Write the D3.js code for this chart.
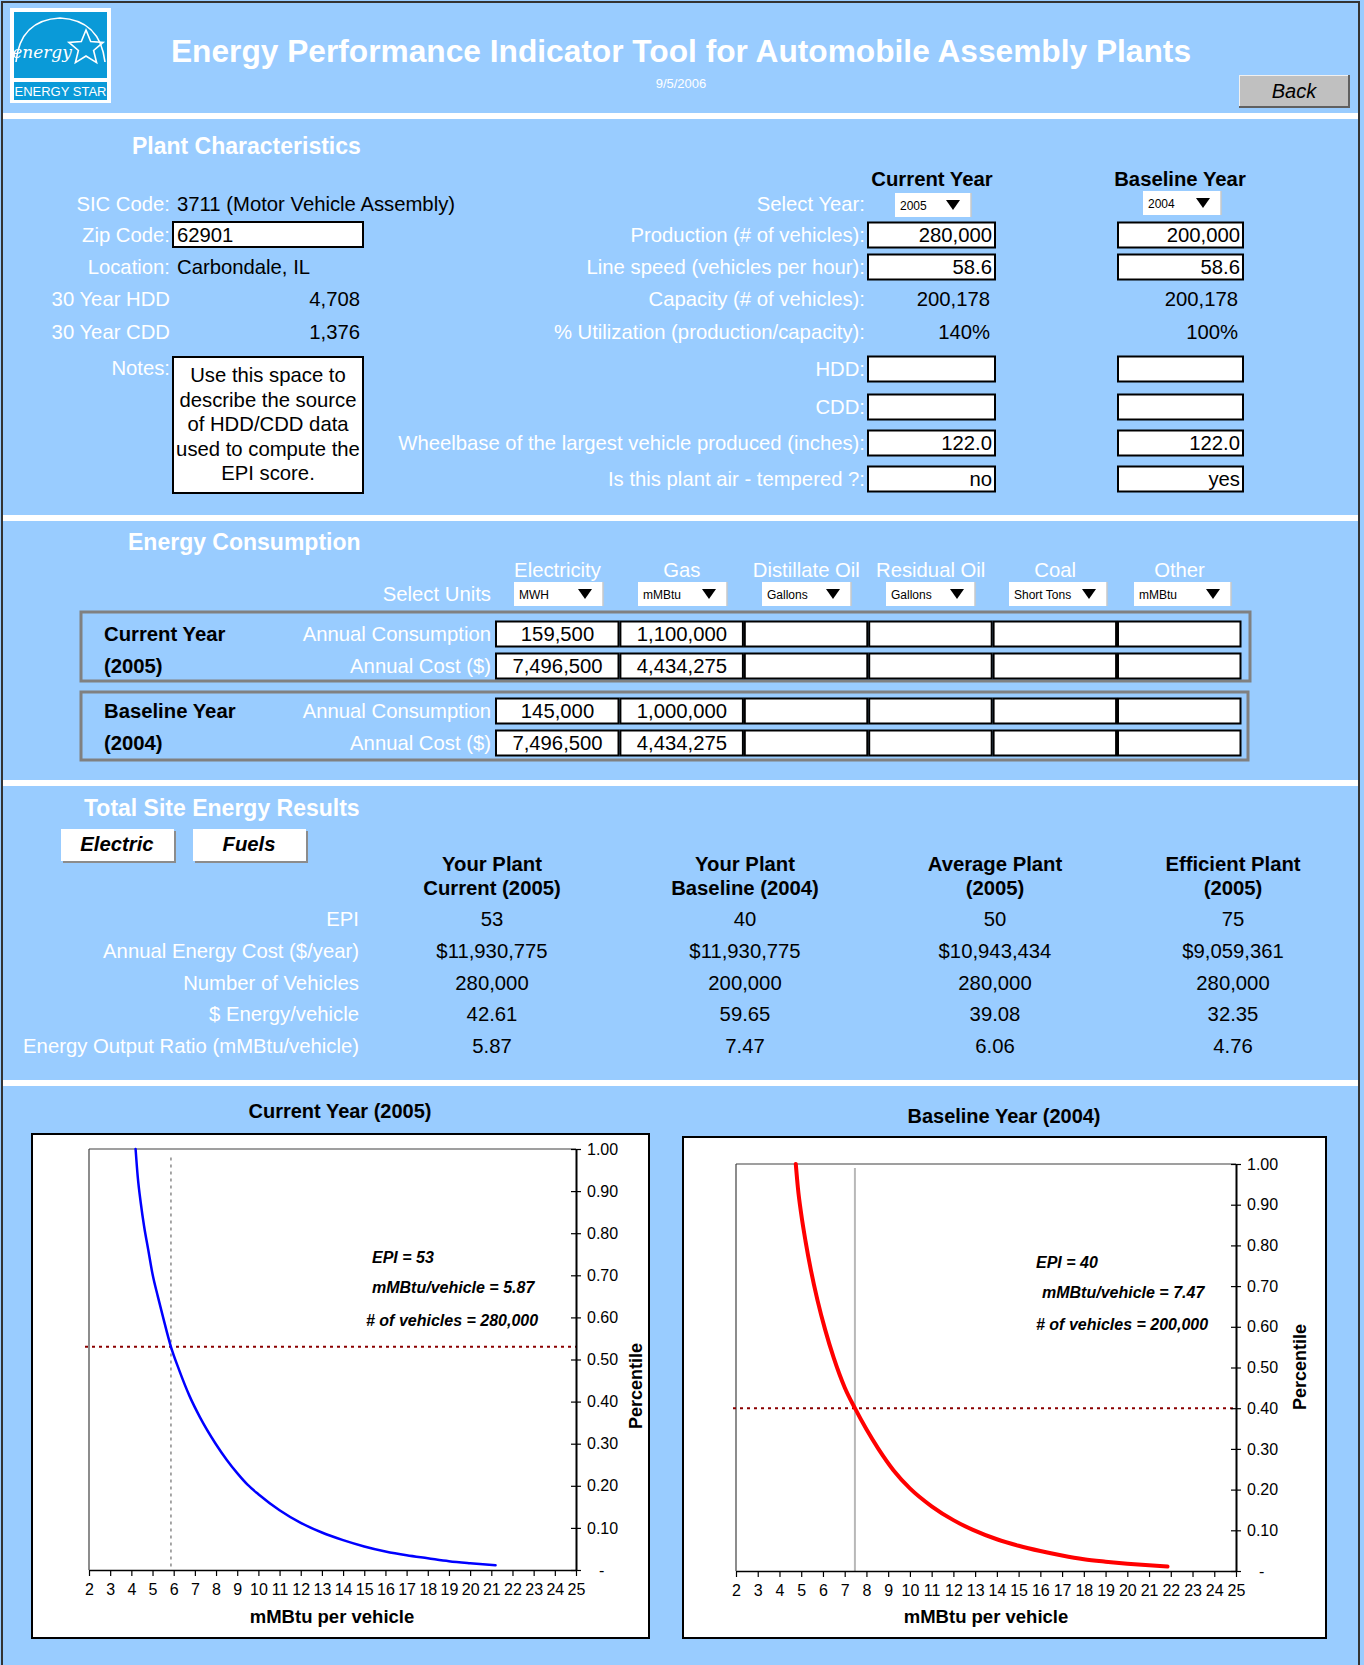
<!DOCTYPE html>
<html>
<head>
<meta charset="utf-8">
<title>Energy Performance Indicator Tool for Automobile Assembly Plants</title>
<script src="https://cdn.jsdelivr.net/npm/d3@7"></script>
<style>
  html, body { margin: 0; padding: 0; background: #99ccff; }
  svg { display: block; }
</style>
</head>
<body>
<svg id="sheet" width="1364" height="1665"></svg>
<script>
// ---------- worksheet data ----------
const reportTitle = "Energy Performance Indicator Tool for Automobile Assembly Plants";
const reportDate = "9/5/2006";

const siteLabels = ["SIC Code:", "Zip Code:", "Location:", "30 Year HDD", "30 Year CDD", "Notes:"];
const siteValues = ["3711 (Motor Vehicle Assembly)", "62901", "Carbondale, IL", "4,708", "1,376"];
const notesLines = ["Use this space to", "describe the source", "of HDD/CDD data", "used to compute the", "EPI score."];

const yearHeads = ["Current Year", "Baseline Year"];
const selectedYears = ["2005", "2004"];
const plantLabels = ["Select Year:", "Production (# of vehicles):", "Line speed (vehicles per hour):",
  "Capacity (# of vehicles):", "% Utilization (production/capacity):", "HDD:", "CDD:",
  "Wheelbase of the largest vehicle produced (inches):", "Is this plant air - tempered ?:"];
const plantInputRows = [1, 2, 5, 6, 7, 8];
const currentPlant = [null, "280,000", "58.6", "200,178", "140%", "", "", "122.0", "no"];
const baselinePlant = [null, "200,000", "58.6", "200,178", "100%", "", "", "122.0", "yes"];

const fuelNames = ["Electricity", "Gas", "Distillate Oil", "Residual Oil", "Coal", "Other"];
const fuelUnits = ["MWH", "mMBtu", "Gallons", "Gallons", "Short Tons", "mMBtu"];
const currentConsumption = ["159,500", "1,100,000", "", "", "", ""];
const currentCost = ["7,496,500", "4,434,275", "", "", "", ""];
const baselineConsumption = ["145,000", "1,000,000", "", "", "", ""];
const baselineCost = ["7,496,500", "4,434,275", "", "", "", ""];

const resultHeads = [["Your Plant", "Current (2005)"], ["Your Plant", "Baseline (2004)"],
  ["Average Plant", "(2005)"], ["Efficient Plant", "(2005)"]];
const resultLabels = ["EPI", "Annual Energy Cost ($/year)", "Number of Vehicles",
  "$ Energy/vehicle", "Energy Output Ratio (mMBtu/vehicle)"];
const resultEPI = [53, 40, 50, 75];
const resultCost = ["$11,930,775", "$11,930,775", "$10,943,434", "$9,059,361"];
const resultVehicles = ["280,000", "200,000", "280,000", "280,000"];
const resultPerVehicle = ["42.61", "59.65", "39.08", "32.35"];
const resultRatio = [5.87, 7.47, 6.06, 4.76];

// percentile curves: [mMBtu per vehicle, percentile]
const xTickValues = [2, 3, 4, 5, 6, 7, 8, 9, 10, 11, 12, 13, 14, 15, 16, 17, 18, 19, 20, 21, 22, 23, 24, 25];
const yTickValues = [0, 0.1, 0.2, 0.3, 0.4, 0.5, 0.6, 0.7, 0.8, 0.9, 1.0];
const currentCurve = [[4.2, 1.0], [4.3, 0.935], [4.45, 0.87], [4.6, 0.817], [4.8, 0.76], [5.0, 0.703],
  [5.25, 0.65], [5.5, 0.60], [5.87, 0.53], [6.25, 0.476], [6.75, 0.413], [7.25, 0.362], [7.98, 0.30],
  [8.5, 0.262], [9.0, 0.230], [9.5, 0.202], [10, 0.180], [11, 0.142], [12, 0.112], [13, 0.089],
  [14, 0.071], [15, 0.056], [16, 0.044], [17, 0.035], [18, 0.028], [19, 0.021], [20, 0.016],
  [21.2, 0.011]];
const baselineCurve = [[4.75, 1.0], [4.85, 0.94], [5.0, 0.877], [5.2, 0.81], [5.45, 0.738], [5.75, 0.665],
  [6.1, 0.593], [6.5, 0.523], [7.0, 0.451], [7.47, 0.40], [8.0, 0.348], [8.55, 0.30], [9.25, 0.247],
  [10, 0.203], [11, 0.159], [12, 0.125], [12.9, 0.101], [14, 0.078], [15, 0.062], [16, 0.049],
  [17, 0.038], [18, 0.029], [19, 0.023], [20, 0.018], [21, 0.014], [21.85, 0.011]];

// ---------- drawing ----------
const FONT = "'Liberation Sans', Arial, Helvetica, sans-serif";
const BG = "#99ccff";
const BASE = 20.3;
const svg = d3.select("#sheet");

function text(parent, x, y, s, o = {}) {
  return parent.append("text")
    .attr("x", x).attr("y", y).attr("dy", "0.35em")
    .attr("font-family", o.family || FONT)
    .attr("font-size", o.size || BASE)
    .attr("font-weight", o.weight || "normal")
    .attr("font-style", o.style || "normal")
    .attr("text-anchor", o.anchor || "start")
    .attr("fill", o.fill || "#000")
    .text(s);
}

function inputBox(parent, x0, x1, y0, y1) {
  parent.append("rect").attr("x", x0).attr("y", y0).attr("width", x1 - x0).attr("height", y1 - y0)
    .attr("fill", "#fff").attr("stroke", "#000").attr("stroke-width", 2);
}

function dropdown(parent, x0, x1, yc, label) {
  parent.append("rect").attr("x", x0).attr("y", yc - 12).attr("width", x1 - x0).attr("height", 24)
    .attr("fill", "#fff");
  parent.append("line").attr("x1", x1).attr("x2", x1).attr("y1", yc - 12).attr("y2", yc + 12)
    .attr("stroke", "#c8c8c8").attr("stroke-width", 1.5);
  text(parent, x0 + 5, yc + 1, label, { size: 12 });
  const tx = x1 - 18;
  parent.append("path").attr("d", `M${tx - 7},${yc - 5}L${tx + 7},${yc - 5}L${tx},${yc + 5}Z`).attr("fill", "#000");
}

// page frame and separators
svg.append("rect").attr("width", 1364).attr("height", 1665).attr("fill", BG);
[[113, 6], [515, 6], [780, 6], [1080, 6]].forEach(([y, h]) =>
  svg.append("rect").attr("x", 3).attr("y", y).attr("width", 1356).attr("height", h).attr("fill", "#fff"));
svg.append("rect").attr("x", 2).attr("y", 2).attr("width", 1357).attr("height", 1680)
  .attr("fill", "none").attr("stroke", "#333").attr("stroke-width", 2);

// ---------- header ----------
const logo = svg.append("g");
logo.append("rect").attr("x", 10).attr("y", 8).attr("width", 101).attr("height", 95).attr("fill", "#fff");
logo.append("rect").attr("x", 14).attr("y", 12).attr("width", 93).attr("height", 66).attr("fill", "#0a9ad8");
logo.append("rect").attr("x", 14).attr("y", 82).attr("width", 93).attr("height", 18).attr("fill", "#0a9ad8");
logo.append("path").attr("d", "M16,62 Q20,20 60,18 Q100,20 105,62").attr("fill", "none")
  .attr("stroke", "#fff").attr("stroke-width", 1.6);
text(logo, 42, 52, "energy", { family: "'DejaVu Serif', serif", style: "italic", size: 17, fill: "#fff", anchor: "middle" });
const star = d3.range(10).map(i => {
  const r = i % 2 ? 8 : 18, a = -Math.PI / 2 + i * Math.PI / 5;
  return [86 + r * Math.cos(a), 48 + r * Math.sin(a)];
});
logo.append("path").attr("d", "M" + star.join("L") + "Z").attr("fill", "none").attr("stroke", "#fff").attr("stroke-width", 1.6);
text(logo, 60.5, 91.5, "ENERGY STAR", { size: 13, fill: "#fff", anchor: "middle" });

text(svg, 681, 51, reportTitle, { size: 31.7, weight: "bold", fill: "#fff", anchor: "middle" });
text(svg, 681, 83, reportDate, { size: 13, fill: "#fff", anchor: "middle" });

const back = svg.append("g");
back.append("rect").attr("x", 1239).attr("y", 75).attr("width", 111).attr("height", 33).attr("fill", "#606060");
back.append("rect").attr("x", 1239).attr("y", 75).attr("width", 109).attr("height", 31).attr("fill", "#f0f0f0");
back.append("rect").attr("x", 1240).attr("y", 76).attr("width", 108).attr("height", 30).attr("fill", "#c0c0c0");
text(back, 1294, 91, "Back", { size: 20, style: "italic", anchor: "middle" });

// ---------- plant characteristics ----------
const plant = svg.append("g");
text(plant, 132, 146, "Plant Characteristics", { size: 23, weight: "bold", fill: "#fff" });
const siteY = [204, 235, 267, 299, 332, 368];
siteLabels.forEach((s, i) => text(plant, 170, siteY[i], s, { anchor: "end", fill: "#fff" }));
inputBox(plant, 173, 363, 222, 247);
inputBox(plant, 173, 363, 357, 493);
text(plant, 177, siteY[0], siteValues[0]);
text(plant, 177, siteY[1], siteValues[1]);
text(plant, 177, siteY[2], siteValues[2]);
text(plant, 360, siteY[3], siteValues[3], { anchor: "end" });
text(plant, 360, siteY[4], siteValues[4], { anchor: "end" });
notesLines.forEach((s, i) => text(plant, 268, 375 + i * 24.5, s, { anchor: "middle" }));

const colBox = [[868, 995], [1118, 1243]];
const headX = [932, 1180];
yearHeads.forEach((s, i) => text(plant, headX[i], 179, s, { weight: "bold", anchor: "middle" }));
const plantY = [204, 235, 267, 299, 332, 369, 407, 443, 479];
plantLabels.forEach((s, i) => text(plant, 865, plantY[i], s, { anchor: "end", fill: "#fff" }));
dropdown(plant, 895, 971, 205, selectedYears[0]);
dropdown(plant, 1143, 1221, 203, selectedYears[1]);
[currentPlant, baselinePlant].forEach((vals, c) => {
  vals.forEach((v, i) => {
    if (v === null) return;
    const boxed = plantInputRows.includes(i);
    if (boxed) inputBox(plant, colBox[c][0], colBox[c][1], plantY[i] - 12.5, plantY[i] + 12.5);
    text(plant, colBox[c][1] - (boxed ? 3 : 5), plantY[i], v, { anchor: "end" });
  });
});

// ---------- energy consumption ----------
const energy = svg.append("g");
text(energy, 128, 542, "Energy Consumption", { size: 23, weight: "bold", fill: "#fff" });
text(energy, 491, 594, "Select Units", { anchor: "end", fill: "#fff" });
const cellX = fuelNames.map((_, i) => 496 + i * 124.4);
const ddX = [[514, 603], [638, 727], [762, 851], [886, 975], [1009, 1107], [1134, 1231]];
fuelNames.forEach((f, i) => {
  text(energy, cellX[i] + 61.5, 570, f, { anchor: "middle", fill: "#fff" });
  dropdown(energy, ddX[i][0], ddX[i][1], 594, fuelUnits[i]);
});
[[612, 681, 1250], [692, 760, 1248]].forEach(([y0, y1, x1]) =>
  energy.append("rect").attr("x", 81).attr("y", y0).attr("width", x1 - 81).attr("height", y1 - y0)
    .attr("fill", "none").attr("stroke", "#808080").attr("stroke-width", 3));
const groupRows = [
  { head: "Current Year", year: "(2005)", rows: [currentConsumption, currentCost], y: [634, 666] },
  { head: "Baseline Year", year: "(2004)", rows: [baselineConsumption, baselineCost], y: [711, 743] }
];
groupRows.forEach(g => {
  text(energy, 104, g.y[0], g.head, { weight: "bold" });
  text(energy, 104, g.y[1], g.year, { weight: "bold" });
  ["Annual Consumption", "Annual Cost ($)"].forEach((lab, r) => {
    text(energy, 491, g.y[r], lab, { anchor: "end", fill: "#fff" });
    g.rows[r].forEach((v, i) => {
      inputBox(energy, cellX[i], cellX[i] + 122.5, g.y[r] - 12.5, g.y[r] + 12.5);
      text(energy, cellX[i] + 61.5, g.y[r], v, { anchor: "middle" });
    });
  });
});

// ---------- total site energy results ----------
const res = svg.append("g");
text(res, 84, 808, "Total Site Energy Results", { size: 23, weight: "bold", fill: "#fff" });
[["Electric", 61], ["Fuels", 193]].forEach(([s, x]) => {
  res.append("rect").attr("x", x + 2).attr("y", 831).attr("width", 113).attr("height", 32).attr("fill", "#8c8c8c");
  res.append("rect").attr("x", x).attr("y", 829).attr("width", 113).attr("height", 32).attr("fill", "#fff");
  text(res, x + 56, 844, s, { weight: "bold", style: "italic", anchor: "middle" });
});
const resX = [492, 745, 995, 1233];
resultHeads.forEach((h, i) => {
  text(res, resX[i], 864, h[0], { weight: "bold", anchor: "middle" });
  text(res, resX[i], 888, h[1], { weight: "bold", anchor: "middle" });
});
const resY = [919, 951, 983, 1014, 1046];
const resCols = [resultEPI, resultCost, resultVehicles, resultPerVehicle, resultRatio.map(d => d.toFixed(2))];
resultLabels.forEach((s, r) => {
  text(res, 359, resY[r], s, { anchor: "end", fill: "#fff" });
  resCols[r].forEach((v, i) => text(res, resX[i], resY[r], v, { anchor: "middle" }));
});

// ---------- percentile charts ----------
const panels = [
  { title: "Current Year (2005)", titleXY: [340, 1111], box: [32, 1134, 649, 1638],
    plot: { l: 89, r: 576, t: 1149, b: 1570 }, curve: currentCurve, color: "#0000ff", width: 2.5,
    epi: resultEPI[0], ratio: resultRatio[0], vehicles: resultVehicles[0],
    hStart: 85, vLine: "dotted", vTop: 0.98, pctXY: [636, 1386], xTitle: 332,
    notes: [[372, 1257], [372, 1287], [366, 1320]] },
  { title: "Baseline Year (2004)", titleXY: [1004, 1116], box: [683, 1137, 1326, 1638],
    plot: { l: 736, r: 1236, t: 1164, b: 1571 }, curve: baselineCurve, color: "#ff0000", width: 4,
    epi: resultEPI[1], ratio: resultRatio[1], vehicles: resultVehicles[1],
    hStart: 733, vLine: "solid", vTop: 0.99, pctXY: [1300, 1367], xTitle: 986,
    notes: [[1036, 1262], [1042, 1292], [1036, 1324]] }
];

panels.forEach(p => {
  const g = svg.append("g");
  g.append("rect").attr("x", p.box[0]).attr("y", p.box[1]).attr("width", p.box[2] - p.box[0])
    .attr("height", p.box[3] - p.box[1]).attr("fill", "#fff").attr("stroke", "#000").attr("stroke-width", 2);
  text(g, p.titleXY[0], p.titleXY[1], p.title, { size: 20, weight: "bold", anchor: "middle" });

  const x = d3.scaleLinear().domain([2, 25]).range([p.plot.l, p.plot.r]);
  const y = d3.scaleLinear().domain([0, 1]).range([p.plot.b, p.plot.t]);

  // plot frame (top and left edges)
  g.append("line").attr("x1", p.plot.l).attr("x2", p.plot.r).attr("y1", p.plot.t).attr("y2", p.plot.t)
    .attr("stroke", "#404040").attr("stroke-width", 1.2);
  g.append("line").attr("x1", p.plot.l).attr("x2", p.plot.l).attr("y1", p.plot.t).attr("y2", p.plot.b)
    .attr("stroke", "#404040").attr("stroke-width", 1.2);

  // reference lines at this plant's intensity and percentile
  const vl = g.append("line").attr("x1", x(p.ratio)).attr("x2", x(p.ratio))
    .attr("y1", y(p.vTop)).attr("y2", y(0));
  if (p.vLine === "dotted") vl.attr("stroke", "#8a8a8a").attr("stroke-width", 1.5).attr("stroke-dasharray", "3,4");
  else vl.attr("stroke", "#b8b8b8").attr("stroke-width", 2);
  g.append("line").attr("x1", p.hStart).attr("x2", p.plot.r).attr("y1", y(p.epi / 100)).attr("y2", y(p.epi / 100))
    .attr("stroke", "#8b0000").attr("stroke-width", 2).attr("stroke-dasharray", "3,4");

  // axes
  const xa = g.append("g").attr("transform", `translate(0,${p.plot.b})`)
    .call(d3.axisBottom(x).tickValues(xTickValues).tickSize(6).tickSizeOuter(0).tickPadding(8).tickFormat(d3.format("d")));
  xa.select(".domain").attr("stroke", "#000").attr("stroke-width", 1.5);
  xa.selectAll(".tick line").attr("stroke", "#000").attr("stroke-width", 1.2);
  xa.selectAll(".tick text").attr("font-family", FONT).attr("font-size", 16).attr("fill", "#000");

  const ya = g.append("g").attr("transform", `translate(${p.plot.r},0)`)
    .call(d3.axisRight(y).tickValues(yTickValues).tickSize(5).tickSizeOuter(0).tickPadding(6)
      .tickFormat(v => v === 0 ? "-" : d3.format(".2f")(v)));
  ya.select(".domain").attr("stroke", "#000").attr("stroke-width", 2);
  ya.selectAll(".tick line").attr("x1", -5).attr("stroke", "#000").attr("stroke-width", 1.2);
  ya.selectAll(".tick text").attr("font-family", FONT).attr("font-size", 16).attr("fill", "#000")
    .attr("dx", v => v === 0 ? 12 : 0);

  // percentile curve
  g.append("path").datum(p.curve)
    .attr("d", d3.line().x(d => x(d[0])).y(d => y(d[1])).curve(d3.curveMonotoneX))
    .attr("fill", "none").attr("stroke", p.color).attr("stroke-width", p.width).attr("stroke-linecap", "round");

  // axis titles
  text(g, p.xTitle, 1617, "mMBtu per vehicle", { size: 18.5, weight: "bold", anchor: "middle" });
  g.append("text").attr("transform", `translate(${p.pctXY[0]},${p.pctXY[1]}) rotate(-90)`)
    .attr("dy", "0.35em").attr("text-anchor", "middle").attr("font-family", FONT)
    .attr("font-size", 18).attr("font-weight", "bold").text("Percentile");

  // annotations
  const lines = [`EPI = ${p.epi}`, `mMBtu/vehicle = ${p.ratio.toFixed(2)}`, `# of vehicles = ${p.vehicles}`];
  lines.forEach((s, i) => text(g, p.notes[i][0], p.notes[i][1], s, { size: 16, weight: "bold", style: "italic" }));
});
</script>
</body>
</html>
